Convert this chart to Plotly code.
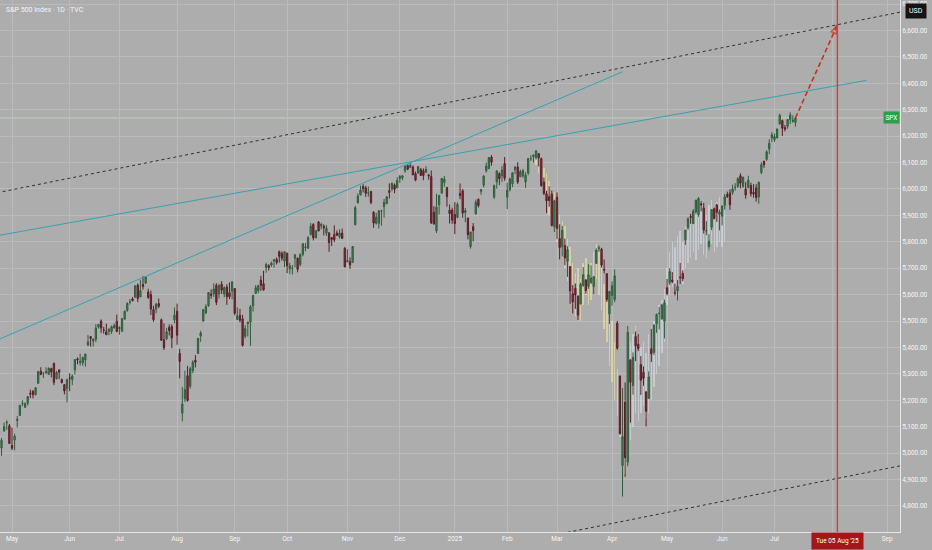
import pandas as pd
import plotly.graph_objects as go

# ---------------- data (S&P 500 daily) ----------------
first_bar = "2024-04-24"
holidays = ["2024-05-27", "2024-06-19", "2024-07-04", "2024-09-02", "2024-11-28", "2024-12-25",
            "2025-01-01", "2025-01-09", "2025-01-20", "2025-02-17", "2025-04-18", "2025-05-26",
            "2025-06-19", "2025-07-04", "2025-09-01"]

opens = [
    5084, 5019, 5084, 5114, 5103,
    5029, 5049, 5123, 5142, 5187, 5173, 5189, 5226, 5234, 5221, 5264, 5310, 5303, 5305, 5298, 5320, 5340, 5282, 5315, 5278, 5259, 5244,
    5284, 5278, 5315, 5357, 5343, 5341, 5353, 5409, 5441, 5424, 5431, 5477, 5500, 5466, 5459, 5460, 5460, 5474, 5499,
    5471, 5461, 5507, 5540, 5572, 5584, 5591, 5636, 5591, 5638, 5644, 5610, 5600, 5543, 5545, 5566, 5505, 5429, 5433, 5476, 5479, 5505,
    5537, 5377, 5151, 5206, 5293, 5253, 5312, 5351, 5377, 5443, 5500, 5531, 5558, 5602, 5603, 5635, 5602, 5639, 5602, 5629, 5607, 5613,
    5623, 5506, 5521, 5508, 5442, 5490, 5496, 5557, 5604, 5615, 5655, 5641, 5703, 5709, 5712, 5727, 5733, 5762, 5756, 5727,
    5757, 5698, 5698, 5737, 5738, 5714, 5752, 5778, 5775, 5827, 5866, 5816, 5875, 5860, 5858, 5833, 5834, 5816, 5827, 5833, 5819, 5833, 5775,
    5724, 5725, 5722, 5864, 5947, 5977, 6009, 6004, 5985, 5990, 5912, 5870, 5870, 5917, 5933, 5944, 5993, 6000, 6015, 6004,
    6040, 6042, 6069, 6089, 6082, 6083, 6058, 6061, 6074, 6069, 6063, 6053, 6047, 5912, 5842, 5940, 5984, 6024, 6006, 5920, 5920,
    5903, 5892, 5983, 5993, 5911, 5890, 5782, 5857, 5905, 5961, 5991, 6014, 6069, 6077, 6121, 5969, 6027, 6058, 6050, 6096,
    5969, 5998, 6020, 6073, 6083, 6046, 6050, 6026, 6060, 6115, 6122, 6118, 6134, 6115, 6026, 5982, 5971, 5981, 5856,
    5969, 5812, 5782, 5786, 5726, 5706, 5603, 5624, 5594, 5564, 5635, 5655, 5632, 5646, 5630, 5718, 5775, 5772, 5696, 5679, 5527,
    5597, 5581, 5492, 5292, 4953, 5193, 4966, 5353, 5255, 5441, 5412, 5335, 5306, 5232, 5207, 5395, 5381, 5489, 5529, 5508, 5499,
    5626, 5645, 5655, 5607, 5614, 5667, 5680, 5808, 5853, 5896, 5869, 5913, 5903, 5944, 5928, 5841, 5781, 5855, 5925, 5939, 5904,
    5897, 5938, 5979, 5985, 5987, 6005, 6010, 6050, 6010, 6000, 6005, 6013, 5987, 6004, 5970, 6062, 6104, 6112, 6151, 6193,
    6187, 6193, 6246, 6259, 6233, 6237, 6263, 6256, 6252,
]
highs = [
    5089, 5057, 5115, 5124, 5110,
    5096, 5073, 5140, 5181, 5200, 5191, 5215, 5240, 5238, 5250, 5311, 5325, 5305, 5325, 5324, 5323, 5342, 5311, 5315, 5282, 5260, 5281,
    5302, 5298, 5354, 5362, 5376, 5365, 5376, 5447, 5441, 5432, 5488, 5487, 5506, 5478, 5490, 5472, 5483, 5490, 5524,
    5480, 5510, 5540, 5570, 5583, 5590, 5635, 5642, 5656, 5670, 5669, 5622, 5615, 5558, 5568, 5585, 5509, 5491, 5474, 5487, 5487, 5551,
    5566, 5395, 5250, 5312, 5330, 5326, 5351, 5371, 5436, 5463, 5545, 5563, 5609, 5620, 5643, 5643, 5641, 5651, 5631, 5639, 5646, 5651,
    5623, 5552, 5546, 5523, 5484, 5497, 5560, 5600, 5636, 5637, 5671, 5690, 5721, 5715, 5725, 5735, 5741, 5767, 5764, 5763,
    5758, 5720, 5712, 5752, 5740, 5757, 5796, 5795, 5822, 5871, 5870, 5842, 5878, 5872, 5866, 5863, 5835, 5817, 5862, 5843, 5847, 5850, 5780,
    5772, 5741, 5783, 5936, 5983, 6012, 6018, 6012, 6009, 5993, 5916, 5909, 5920, 5921, 5962, 5973, 6021, 6025, 6021, 6044,
    6053, 6052, 6089, 6092, 6099, 6089, 6066, 6079, 6079, 6078, 6086, 6057, 6070, 5935, 5982, 5978, 6041, 6049, 6007, 5941, 5929,
    5950, 5949, 6021, 6000, 5928, 5890, 5838, 5871, 5960, 5964, 6000, 6052, 6100, 6119, 6128, 6017, 6071, 6063, 6087, 6121,
    6023, 6042, 6062, 6084, 6101, 6073, 6076, 6063, 6117, 6127, 6129, 6147, 6134, 6119, 6043, 5993, 6010, 5994, 5959,
    5987, 5866, 5860, 5812, 5783, 5706, 5636, 5642, 5597, 5645, 5704, 5659, 5715, 5711, 5670, 5775, 5786, 5777, 5733, 5680, 5613,
    5650, 5695, 5500, 5292, 5246, 5267, 5481, 5353, 5381, 5460, 5450, 5367, 5328, 5232, 5309, 5470, 5486, 5528, 5553, 5565, 5581,
    5659, 5700, 5685, 5641, 5655, 5720, 5691, 5845, 5892, 5906, 5924, 5958, 5969, 5954, 5947, 5878, 5829, 5922, 5930, 5944, 5922,
    5937, 5981, 5990, 5999, 6016, 6022, 6044, 6059, 6045, 6026, 6050, 6024, 6018, 6018, 6028, 6101, 6108, 6146, 6188, 6215,
    6210, 6228, 6285, 6263, 6242, 6264, 6290, 6279, 6272,
]
lows = [
    5047, 4990, 5080, 5088, 5035,
    5011, 5011, 5097, 5142, 5178, 5173, 5180, 5208, 5207, 5218, 5263, 5296, 5284, 5299, 5297, 5287, 5257, 5278, 5280, 5263, 5222, 5192,
    5234, 5257, 5298, 5336, 5331, 5331, 5327, 5405, 5403, 5403, 5420, 5471, 5455, 5452, 5447, 5446, 5451, 5471, 5458,
    5448, 5460, 5507, 5535, 5562, 5574, 5587, 5572, 5591, 5619, 5640, 5584, 5523, 5497, 5529, 5549, 5425, 5390, 5428, 5445, 5397, 5491,
    5410, 5283, 5120, 5193, 5195, 5244, 5302, 5324, 5377, 5421, 5497, 5526, 5554, 5584, 5591, 5560, 5585, 5602, 5590, 5561, 5583, 5582,
    5522, 5504, 5495, 5403, 5434, 5441, 5406, 5536, 5604, 5605, 5614, 5615, 5683, 5691, 5705, 5702, 5714, 5721, 5728, 5704,
    5681, 5678, 5676, 5703, 5684, 5707, 5745, 5764, 5775, 5824, 5805, 5812, 5840, 5847, 5824, 5822, 5762, 5784, 5799, 5824, 5812, 5811, 5703,
    5723, 5697, 5722, 5864, 5946, 5976, 5987, 5970, 5971, 5942, 5853, 5865, 5850, 5861, 5891, 5944, 5964, 5992, 5984, 6004,
    6023, 6033, 6061, 6071, 6079, 6053, 6029, 6057, 6051, 6033, 6060, 6035, 5867, 5866, 5833, 5903, 5982, 6008, 5933, 5869, 5868,
    5829, 5889, 5961, 5891, 5874, 5809, 5774, 5802, 5905, 5930, 5978, 6006, 6062, 6075, 6088, 5962, 6001, 6015, 6027, 6031,
    5924, 5991, 6007, 6056, 6019, 6046, 6042, 6004, 6052, 6107, 6100, 6111, 6085, 6008, 5977, 5909, 5933, 5858, 5837,
    5810, 5733, 5744, 5711, 5667, 5565, 5529, 5546, 5504, 5564, 5629, 5603, 5622, 5640, 5602, 5718, 5764, 5703, 5680, 5572, 5489,
    5558, 5571, 5391, 5069, 4835, 4910, 4950, 5115, 5221, 5348, 5386, 5220, 5255, 5101, 5207, 5345, 5371, 5455, 5468, 5505, 5434,
    5597, 5637, 5643, 5597, 5578, 5640, 5650, 5788, 5845, 5868, 5868, 5908, 5895, 5915, 5831, 5825, 5768, 5844, 5884, 5875, 5843,
    5862, 5921, 5966, 5921, 5978, 5994, 6004, 6002, 6004, 5963, 6004, 5971, 5967, 5952, 5944, 6056, 6080, 6107, 6132, 6178,
    6178, 6192, 6244, 6201, 6218, 6228, 6246, 6251, 6236,
]
closes = [
    5071, 5048, 5100, 5116, 5036,
    5018, 5064, 5128, 5181, 5188, 5188, 5214, 5223, 5221, 5247, 5308, 5297, 5303, 5308, 5321, 5307, 5268, 5305, 5306, 5267, 5235, 5278,
    5283, 5291, 5354, 5353, 5347, 5361, 5375, 5421, 5434, 5432, 5473, 5487, 5473, 5465, 5448, 5469, 5478, 5483, 5460,
    5475, 5509, 5537, 5567, 5572, 5577, 5633, 5585, 5615, 5631, 5667, 5589, 5545, 5505, 5564, 5556, 5427, 5399, 5459, 5464, 5436, 5522,
    5446, 5347, 5186, 5240, 5199, 5319, 5344, 5344, 5434, 5455, 5543, 5555, 5608, 5597, 5621, 5571, 5634, 5617, 5626, 5592, 5592, 5648,
    5529, 5520, 5503, 5408, 5471, 5496, 5554, 5596, 5626, 5634, 5635, 5618, 5714, 5703, 5719, 5732, 5722, 5745, 5738, 5762,
    5709, 5709, 5700, 5751, 5696, 5751, 5792, 5780, 5815, 5859, 5815, 5842, 5841, 5865, 5853, 5851, 5797, 5809, 5808, 5824, 5833, 5813, 5705,
    5729, 5712, 5782, 5929, 5973, 5996, 6001, 5984, 5985, 5949, 5871, 5893, 5917, 5917, 5949, 5970, 5987, 6021, 5999, 6032,
    6047, 6050, 6087, 6075, 6090, 6053, 6034, 6085, 6051, 6051, 6074, 6050, 5872, 5867, 5931, 5975, 6040, 6037, 5971, 5907, 5882,
    5869, 5942, 5975, 5909, 5918, 5827, 5837, 5843, 5950, 5937, 5997, 6049, 6086, 6119, 6101, 6012, 6068, 6039, 6071, 6041,
    5995, 6038, 6061, 6084, 6026, 6066, 6069, 6052, 6115, 6115, 6129, 6144, 6118, 6013, 5983, 5955, 5956, 5862, 5955,
    5850, 5778, 5843, 5739, 5770, 5614, 5572, 5599, 5522, 5639, 5675, 5615, 5675, 5663, 5668, 5768, 5777, 5712, 5693, 5581, 5612,
    5633, 5671, 5397, 5074, 5062, 4982, 5457, 5268, 5363, 5406, 5396, 5276, 5283, 5158, 5288, 5376, 5485, 5525, 5529, 5561, 5569,
    5604, 5687, 5650, 5607, 5631, 5664, 5660, 5844, 5887, 5892, 5916, 5958, 5964, 5940, 5845, 5842, 5802, 5922, 5889, 5912, 5912,
    5936, 5970, 5971, 5940, 6000, 6006, 6039, 6022, 6045, 5977, 6033, 5982, 5981, 5967, 6025, 6092, 6092, 6141, 6173, 6205,
    6198, 6227, 6279, 6230, 6226, 6263, 6280, 6260, 6269,
]

# faint "bars pattern" overlays (high / low)
ghost_yellow_start = "2025-02-19"
ghost_yellow_hi = [6140, 6130, 6100, 6080, 6060, 6030, 5990, 5990, 5960, 5900, 5880, 5860, 5810, 5780, 5720, 5680,
                   5700, 5660, 5720, 5740, 5700, 5720, 5760, 5790, 5760, 5700, 5640, 5580, 5520, 5500, 5420,
                   5320, 5260, 5200, 5180]
ghost_yellow_lo = [6090, 6060, 6010, 5990, 5950, 5900, 5880, 5840, 5800, 5760, 5740, 5700, 5650, 5620, 5560, 5520,
                   5520, 5500, 5560, 5600, 5560, 5580, 5620, 5660, 5600, 5540, 5470, 5420, 5330, 5270, 5200,
                   5140, 5060, 4960, 4920]
ghost_blue_start = "2025-04-08"
ghost_blue_hi = [5200, 5350, 5420, 5450, 5480, 5440, 5400, 5420, 5380, 5450, 5480, 5500, 5520, 5560, 5580, 5620,
                 5700, 5760, 5800, 5780, 5820, 5840, 5800, 5860, 5880, 5900, 5920, 5900, 5930, 5950, 5920,
                 5900, 5940, 5960, 5930, 5950, 5970, 5940, 5960]
ghost_blue_lo = [4950, 4980, 5050, 5100, 5150, 5120, 5150, 5180, 5130, 5150, 5200, 5250, 5300, 5330, 5380, 5420,
                 5560, 5600, 5630, 5620, 5650, 5660, 5640, 5700, 5720, 5740, 5760, 5730, 5770, 5790, 5750,
                 5740, 5770, 5790, 5760, 5780, 5800, 5780, 5800]

# trendlines: (date, price) anchor pairs
upper_channel = [("2024-05-01", 5997), ("2025-08-05", 6622)]
lower_channel = [("2024-05-01", 4279), ("2025-08-05", 4904)]
cyan_a = [("2024-07-16", 5669), ("2024-12-06", 6099)]
cyan_a_end = "2025-04-07"
cyan_b = [("2024-05-01", 5833), ("2025-08-20", 6411)]
cyan_b_end = "2025-08-20"
projection = [("2025-07-14", 6269), ("2025-08-05", 6621)]
marker_date = "2025-08-05"
marker_label = "Tue 05 Aug '25"

# ---------------- trading-day axis ----------------
days = [d for d in pd.bdate_range(first_bar, "2025-09-30") if d.strftime("%Y-%m-%d") not in holidays]
pos = {d.strftime("%Y-%m-%d"): i for i, d in enumerate(days)}
xs = list(range(len(closes)))

tickvals, ticktext = [], []
prev = None
for i, d in enumerate(days):
    key = (d.year, d.month)
    if key != prev:
        if not (d.year == 2024 and d.month == 4):
            tickvals.append(i)
            if d.year == 2025 and d.month == 1:
                ticktext.append("2025")
            elif d.year == 2025 and d.month == 8:
                ticktext.append("")  # hidden behind the date marker label
            else:
                ticktext.append(d.strftime("%b"))
        prev = key

BG = "#adadad"
GRID = "#bbbbbb"
TXT = "#f6f6f6"
FONT = "Roboto"

fig = go.Figure()

# ghost overlays
ys0 = pos[ghost_yellow_start]
fig.add_trace(go.Bar(x=[ys0 + i for i in range(len(ghost_yellow_hi))],
                     base=ghost_yellow_lo,
                     y=[h - l for h, l in zip(ghost_yellow_hi, ghost_yellow_lo)],
                     width=0.55, marker=dict(color="rgba(238,230,160,0.6)", line=dict(width=0))))
bs0 = pos[ghost_blue_start]
fig.add_trace(go.Bar(x=[bs0 + i for i in range(len(ghost_blue_hi))],
                     base=ghost_blue_lo,
                     y=[h - l for h, l in zip(ghost_blue_hi, ghost_blue_lo)],
                     width=0.55, marker=dict(color="rgba(222,232,245,0.5)", line=dict(width=0))))

# candles
fig.add_trace(go.Candlestick(
    x=xs, open=opens, high=highs, low=lows, close=closes,
    increasing=dict(line=dict(color="#2f5e3c", width=1), fillcolor="#3f8553"),
    decreasing=dict(line=dict(color="#5c1d27", width=1), fillcolor="#8a2b3a"),
    whiskerwidth=0,
))


def ray(anchors, x_from, x_to):
    (d1, p1), (d2, p2) = anchors
    x1, x2 = pos[d1], pos[d2]
    slope = (p2 - p1) / (x2 - x1)
    return [x_from, x_to], [p1 + (x_from - x1) * slope, p1 + (x_to - x1) * slope]


far_left, far_right = -30, len(days) + 20
for anchors, xf, xt, color, dash in [
    (upper_channel, far_left, far_right, "#2e2e2e", "3px,3px"),
    (lower_channel, far_left, far_right, "#2e2e2e", "3px,3px"),
    (cyan_a, far_left, pos[cyan_a_end], "#35a2b2", "solid"),
    (cyan_b, far_left, pos[cyan_b_end], "#35a2b2", "solid"),
]:
    lx, ly = ray(anchors, xf, xt)
    fig.add_trace(go.Scatter(x=lx, y=ly, mode="lines",
                             line=dict(color=color, width=1, dash=dash)))

# projection arrow
px_ = [pos[d] for d, _ in projection]
py_ = [p for _, p in projection]
fig.add_trace(go.Scatter(x=px_, y=py_, mode="lines+markers",
                         line=dict(color="#c4321f", width=1.6, dash="5px,3px"),
                         marker=dict(symbol=["circle", "arrow-open"], size=[0, 9], angleref="previous",
                                     color="#c4321f", line=dict(color="#c4321f", width=1.6)),
                         cliponaxis=False))

x_left = pos["2024-05-01"] - 4.58
x_right = pos["2024-05-01"] + 338.9

shapes = [
    dict(type="line", xref="x", yref="paper", x0=pos[marker_date], x1=pos[marker_date], y0=0, y1=1,
         line=dict(color="#dc3a34", width=1.4)),
    dict(type="line", xref="paper", yref="y", x0=0, x1=1, y0=closes[-1], y1=closes[-1],
         line=dict(color="rgba(196,222,200,0.7)", width=1), layer="below"),
]

annotations = [
    dict(text="S&amp;P 500 Index · 1D · TVC", xref="paper", yref="paper", x=0.004, y=1 - 10 / 532,
         xanchor="left", yanchor="middle", showarrow=False, font=dict(size=7, color=TXT, family=FONT)),
    dict(text="USD", xref="paper", yref="paper", x=1 + 15.5 / 900, y=1 - 11.5 / 532,
         xanchor="center", yanchor="middle", showarrow=False, bgcolor="#141414",
         borderpad=3, font=dict(size=7, color="#ffffff", family=FONT)),
    dict(text="SPX", xref="paper", yref="y", x=1, y=closes[-1], xanchor="right", yanchor="middle",
         showarrow=False, bgcolor="#2f9e4c", borderpad=1.5, font=dict(size=6.5, color="#ffffff", family=FONT)),
    dict(text=marker_label, xref="x", yref="paper", x=pos[marker_date], y=0, xanchor="center", yanchor="top",
         showarrow=False, bgcolor="#a3161a", borderpad=4, font=dict(size=6.5, color="#ffffff", family=FONT)),
]

fig.update_layout(
    width=932, height=550, margin=dict(l=0, r=32, t=0, b=18),
    paper_bgcolor=BG, plot_bgcolor=BG, showlegend=False, barmode="overlay", bargap=0,
    hovermode=False, font=dict(family=FONT, size=7, color=TXT),
    shapes=shapes, annotations=annotations,
)
fig.update_xaxes(range=[x_left, x_right], tickvals=tickvals, ticktext=ticktext,
                 showgrid=True, gridcolor=GRID, gridwidth=1, showline=True, linecolor="#e6e6e6",
                 linewidth=1, zeroline=False, ticks="", rangeslider_visible=False,
                 tickfont=dict(size=6.5, color=TXT, family=FONT))
fig.update_yaxes(side="right", range=[4701, 6715.5], dtick=100, tickformat=",.2f",
                 showgrid=True, gridcolor=GRID, gridwidth=1, showline=True, linecolor="#e6e6e6",
                 linewidth=1, zeroline=False, ticks="", tickfont=dict(size=6.5, color=TXT, family=FONT))

fig.write_html("out.html", config={"displayModeBar": False},
               post_script="document.body.style.margin='0';document.body.style.overflow='hidden';document.body.style.background='" + BG + "';")
